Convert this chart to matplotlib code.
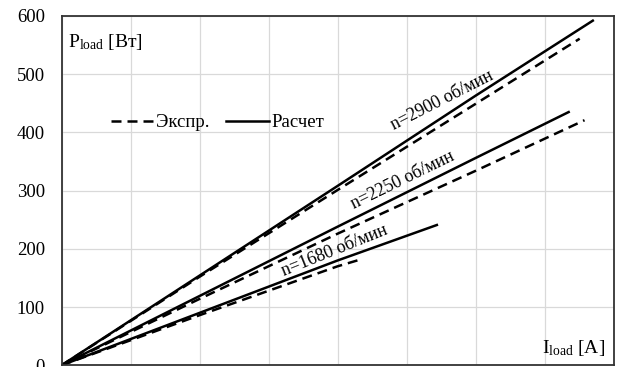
import matplotlib
matplotlib.use('Agg')
import matplotlib.pyplot as plt
import numpy as np

plt.rcParams['font.family'] = ['Liberation Serif', 'DejaVu Serif']
plt.rcParams['mathtext.fontset'] = 'custom'
plt.rcParams['mathtext.rm'] = 'Liberation Serif'
plt.rcParams['mathtext.it'] = 'Liberation Serif:italic'

# расчет
x_2900_calc = [0, 2, 4, 6, 7.70]
p_2900_calc = [0, 154, 308, 463, 592]
x_2250_calc = [0, 2, 4, 6, 7.35]
p_2250_calc = [0, 119, 238, 356, 435]
x_1680_calc = [0, 2, 4, 5.44]
p_1680_calc = [0, 90, 180, 241]

# эксперимент
x_2900_exp = [0, 2, 4, 6, 7.51]
p_2900_exp = [0, 152, 301, 449, 561]
x_2250_exp = [0, 2, 4, 6, 7.58]
p_2250_exp = [0, 114, 226, 334, 421]
x_1680_exp = [0, 2, 4, 4.34]
p_1680_exp = [0, 86, 170, 182]

yticks = [0, 100, 200, 300, 400, 500, 600]

fig = plt.figure(figsize=(6.21, 3.67), dpi=100)
ax = fig.add_axes([61.5/621, 1.7/367, 552/621, 349.3/367])

dash = (0, (4, 2.4))
lw = 1.8
ax.plot(x_2900_exp, p_2900_exp, color='black', lw=lw, ls=dash, label='Экспр.')
ax.plot(x_2900_calc, p_2900_calc, color='black', lw=lw, label='Расчет')
ax.plot(x_2250_exp, p_2250_exp, color='black', lw=lw, ls=dash)
ax.plot(x_2250_calc, p_2250_calc, color='black', lw=lw)
ax.plot(x_1680_exp, p_1680_exp, color='black', lw=lw, ls=dash)
ax.plot(x_1680_calc, p_1680_calc, color='black', lw=lw)

ax.set_xlim(0, 8)
ax.set_ylim(0, 600)
ax.set_xticks(np.arange(0, 9, 1))
ax.set_yticks(yticks)
ax.set_xticklabels([])
ax.tick_params(length=0, labelsize=13.5, pad=12)
ax.grid(True, color='#d9d9d9', lw=0.9)
ax.set_axisbelow(True)
for s in ax.spines.values():
    s.set_color('#333333')
    s.set_linewidth(1.3)

# подписи кривых
ax.text(5.52, 455, 'n=2900 об/мин', rotation=27, fontsize=13, ha='center', va='center')
ax.text(4.94, 318, 'n=2250 об/мин', rotation=26, fontsize=13, ha='center', va='center')
ax.text(3.96, 197, 'n=1680 об/мин', rotation=22, fontsize=13, ha='center', va='center')

ax.text(0.012, 0.955, 'P$_{\\mathrm{load}}$ [Вт]', transform=ax.transAxes,
        fontsize=14, ha='left', va='top')
ax.text(0.985, 0.02, 'I$_{\\mathrm{load}}$ [A]', transform=ax.transAxes,
        fontsize=14, ha='right', va='bottom')

ax.legend(loc='center left', bbox_to_anchor=(0.072, 0.694), ncol=2, frameon=False,
          fontsize=13.5, handlelength=2.3, handletextpad=0.1, columnspacing=0.9,
          borderpad=0)

fig.savefig('out.png', dpi=100)
